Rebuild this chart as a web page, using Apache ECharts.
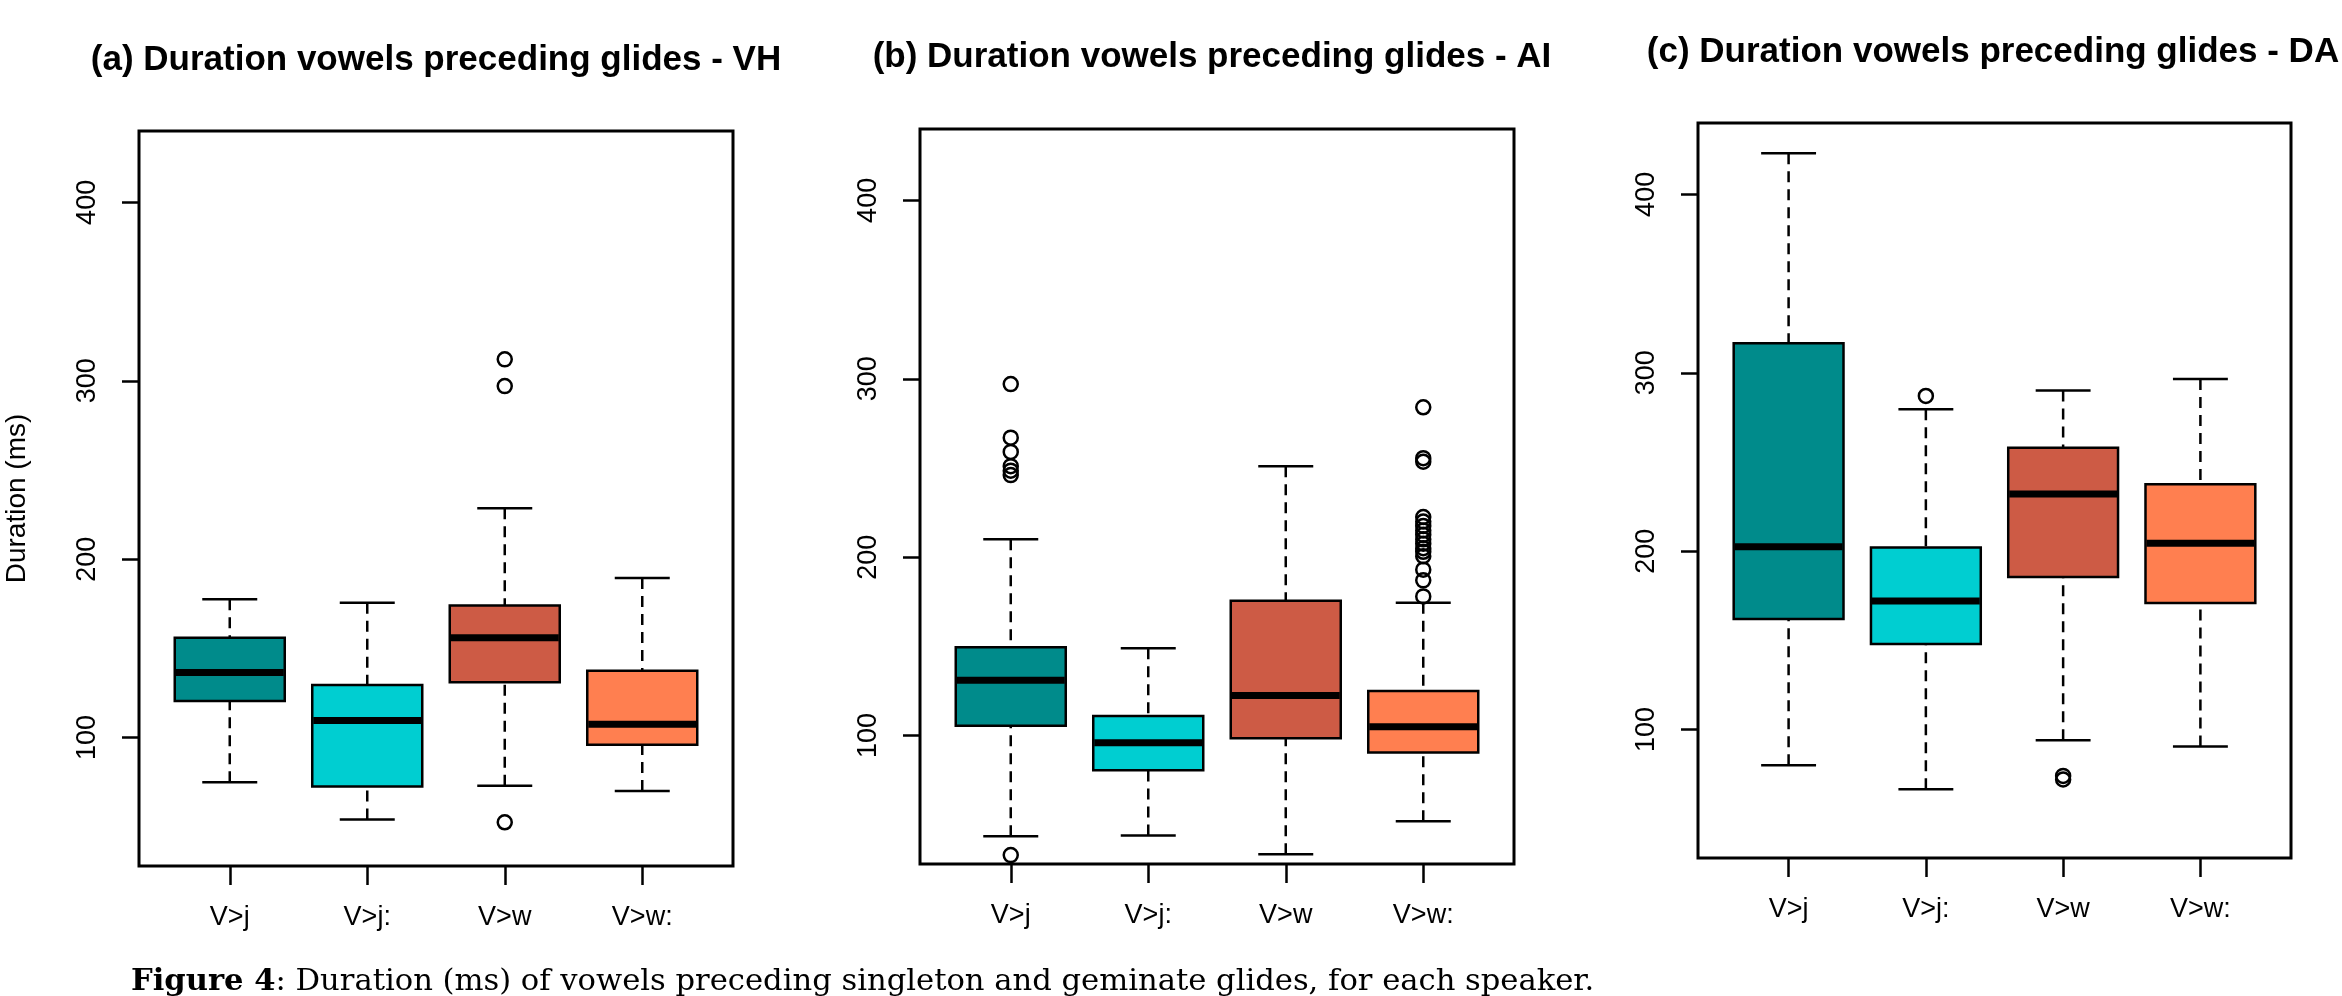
<!DOCTYPE html>
<html>
<head>
<meta charset="utf-8">
<script src="https://cdn.jsdelivr.net/npm/echarts@6/dist/echarts.min.js"></script>
<style>
html,body{margin:0;padding:0;background:#fff;}
#chart{width:2342px;height:996px;}
</style>
</head>
<body>
<div id="chart"></div>
<script>
// ---------------- data ----------------
const categories = ['V>j', 'V>j:', 'V>w', 'V>w:'];
const yTickValues = [100, 200, 300, 400];
const panelTitles = [
  '(a) Duration vowels preceding glides - VH',
  '(b) Duration vowels preceding glides - AI',
  '(c) Duration vowels preceding glides - DA'
];
const yAxisTitle = 'Duration (ms)';
const captionBold = 'Figure 4';
const captionRest = ': Duration (ms) of vowels preceding singleton and geminate glides, for each speaker.';

// box statistics per category: [lower whisker, Q1, median, Q3, upper whisker]
const statsVH = [
  [75, 120.5, 136.5, 156, 177.5],
  [54, 72.5, 109.5, 129.5, 175.5],
  [73, 131, 156, 174, 228.5],
  [70, 96, 107.5, 137.5, 189.5]
];
const statsAI = [
  [43.5, 105.5, 131, 149.5, 210],
  [44, 80.5, 96, 111, 149],
  [33.5, 98.5, 122.5, 175.5, 251],
  [52, 90.5, 105, 125, 174.5]
];
const statsDA = [
  [80, 162, 202.5, 316.5, 423],
  [66.5, 148, 172, 202, 279.5],
  [94, 185.5, 232, 258, 290],
  [90.5, 171, 204.5, 237.5, 296.5]
];
// outliers per category
const outliersVH = [[], [], [312, 297, 52.5], []];
const outliersAI = [
  [297, 267, 259, 251, 248.5, 246, 33],
  [],
  [],
  [284, 255.5, 253.5, 222.5, 220, 217.5, 215, 212.5, 210, 207.5, 205, 203, 200.5, 193, 187, 178]
];
const outliersDA = [[], [287], [74, 72], []];

// ---------------- styles / layout ----------------
const boxColors = ['#008B8B', '#00CED1', '#CD5B45', '#FF7F50'];
const panels = [
  { stats: statsVH, out: outliersVH, left: 139, top: 131, width: 594, height: 735, titleX: 436, titleY: 60 },
  { stats: statsAI, out: outliersAI, left: 920, top: 129, width: 594, height: 735, titleX: 1212, titleY: 57 },
  { stats: statsDA, out: outliersDA, left: 1698, top: 123, width: 593, height: 735, titleX: 1993, titleY: 52 }
];
const sansFont = '"Liberation Sans", Arial, Helvetica, sans-serif';
const serifFont = '"DejaVu Serif", "Liberation Serif", serif';

function renderBox(params, api) {
  const x = api.value(0);
  const lo = api.value(1), q1 = api.value(2), med = api.value(3), q3 = api.value(4), hi = api.value(5);
  const half = 0.4, capHalf = 0.2;
  const pTL = api.coord([x - half, q3]);
  const pBR = api.coord([x + half, q1]);
  const pMed = api.coord([x, med]);
  const pLo = api.coord([x, lo]);
  const pHi = api.coord([x, hi]);
  const capL = api.coord([x - capHalf, lo])[0];
  const capR = api.coord([x + capHalf, lo])[0];
  const cx = pMed[0];
  const color = boxColors[params.dataIndex];
  const dash = { stroke: '#000', lineWidth: 2.5, lineDash: [11, 7] };
  const solid = { stroke: '#000', lineWidth: 2.5 };
  return {
    type: 'group',
    children: [
      { type: 'line', shape: { x1: cx, y1: pHi[1], x2: cx, y2: pTL[1] }, style: dash },
      { type: 'line', shape: { x1: cx, y1: pLo[1], x2: cx, y2: pBR[1] }, style: dash },
      { type: 'line', shape: { x1: capL, y1: pHi[1], x2: capR, y2: pHi[1] }, style: solid },
      { type: 'line', shape: { x1: capL, y1: pLo[1], x2: capR, y2: pLo[1] }, style: solid },
      { type: 'rect', shape: { x: pTL[0], y: pTL[1], width: pBR[0] - pTL[0], height: pBR[1] - pTL[1] },
        style: { fill: color, stroke: '#000', lineWidth: 2.5 } },
      { type: 'line', shape: { x1: pTL[0] + 1, y1: pMed[1], x2: pBR[0] - 1, y2: pMed[1] },
        style: { stroke: '#000', lineWidth: 7 } }
    ]
  };
}

const grid = [], xAxis = [], yAxis = [], series = [], graphic = [];
panels.forEach((p, i) => {
  grid.push({
    left: p.left, top: p.top, width: p.width, height: p.height,
    show: true, borderColor: '#000', borderWidth: 3, backgroundColor: 'transparent',
    containLabel: false
  });
  xAxis.push({
    type: 'value', gridIndex: i, min: 0.34, max: 4.66,
    splitLine: { show: false },
    axisLine: { show: false },
    axisTick: { show: true, customValues: [1, 2, 3, 4], length: 19, inside: false,
      lineStyle: { color: '#000', width: 2.5 } },
    axisLabel: { show: true, customValues: [1, 2, 3, 4], margin: 38,
      formatter: v => categories[Math.round(v) - 1] || '',
      color: '#000', fontSize: 27, fontFamily: sansFont }
  });
  yAxis.push({
    type: 'value', gridIndex: i, min: 28, max: 440,
    name: i === 0 ? yAxisTitle : '',
    nameLocation: 'middle', nameRotate: 90, nameGap: 108,
    nameTextStyle: { color: '#000', fontSize: 28, fontFamily: sansFont },
    splitLine: { show: false },
    axisLine: { show: false },
    axisTick: { show: true, customValues: yTickValues, length: 17, inside: false,
      lineStyle: { color: '#000', width: 2.5 } },
    axisLabel: { show: true, customValues: yTickValues, rotate: 90, margin: 38,
      color: '#000', fontSize: 27, fontFamily: sansFont }
  });
  series.push({
    type: 'custom', xAxisIndex: i, yAxisIndex: i,
    renderItem: renderBox,
    encode: { x: 0, y: [1, 2, 3, 4, 5] },
    data: p.stats.map((s, k) => [k + 1].concat(s)),
    z: 2
  });
  const outData = [];
  p.out.forEach((arr, k) => arr.forEach(v => outData.push([k + 1, v])));
  series.push({
    type: 'scatter', xAxisIndex: i, yAxisIndex: i,
    symbol: 'circle', symbolSize: 14,
    itemStyle: { color: 'rgba(0,0,0,0)', borderColor: '#000', borderWidth: 2.5, opacity: 1 },
    data: outData,
    z: 3
  });
  graphic.push({
    type: 'text', x: p.titleX, y: p.titleY,
    style: { text: panelTitles[i], fill: '#000', font: 'bold 35px ' + sansFont,
      align: 'center', verticalAlign: 'middle' }
  });
});

graphic.push({
  type: 'text', x: 131, y: 982,
  style: {
    text: '{b|' + captionBold + '}' + captionRest,
    fill: '#000', font: '30.6px ' + serifFont,
    align: 'left', verticalAlign: 'middle',
    rich: { b: { fontWeight: 'bold', fontSize: 30.6, fontFamily: serifFont, fill: '#000' } }
  }
});

const chart = echarts.init(document.getElementById('chart'), null, { renderer: 'canvas', width: 2342, height: 996 });
chart.setOption({
  backgroundColor: '#fff',
  animation: false,
  grid, xAxis, yAxis, series, graphic
});
</script>
</body>
</html>
